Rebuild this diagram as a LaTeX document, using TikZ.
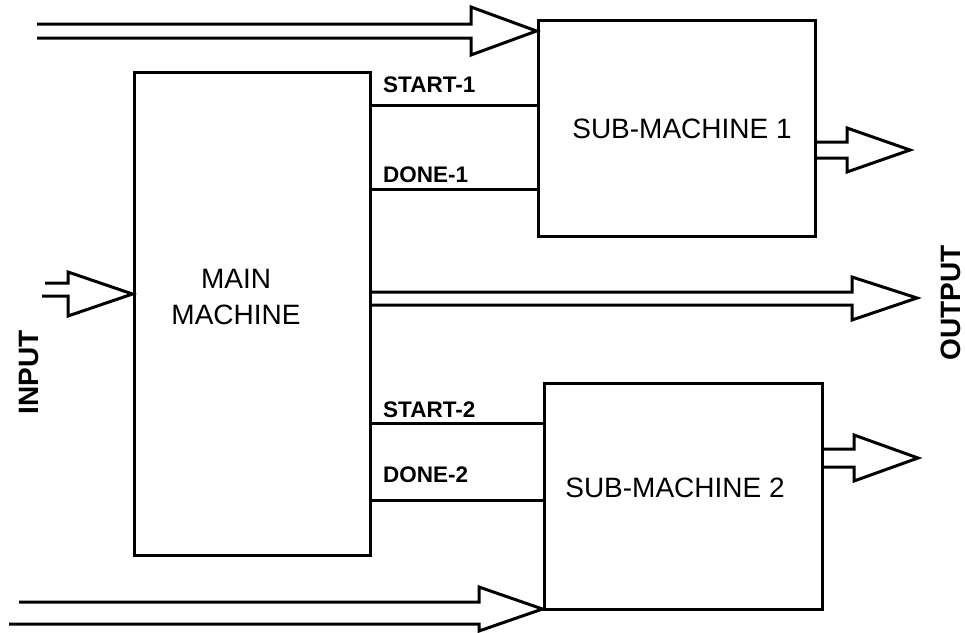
\documentclass[tikz,border=0pt]{standalone}
\usepackage{fontspec}
\setmainfont{Liberation Sans}
\usepackage{tikz}
\usetikzlibrary{positioning}

% hollow double arrow: x start top, x start bottom, y top line, y bottom line,
% head base x, head top y, head bottom y, tip
\newcommand{\hollowarrow}[8]{%
  \draw[wire] (#1,#3) -- (#5,#3) -- (#5,#6) -- (#8) -- (#5,#7) -- (#5,#4) -- (#2,#4);
}

\tikzset{
  wire/.style={line width=3pt},
  machine/.style={draw, line width=3pt, rectangle, inner sep=0pt},
  boxtext/.style={font=\fontsize{28}{36}\selectfont, align=center},
  sig/.style={font=\bfseries\fontsize{22.5}{24}\selectfont, anchor=base west, inner sep=0pt},
  port/.style={font=\bfseries\fontsize{28}{32}\selectfont, rotate=90}
}

\begin{document}
\begin{tikzpicture}[x=1pt, y=-1pt]
\useasboundingbox (0,0) rectangle (965,632);

% machines
\node[machine, minimum width=236pt, minimum height=483pt] (main) at (252,313.5) {};
\node[machine, minimum width=277pt, minimum height=216pt] (sub1) at (676.5,128) {};
\node[machine, minimum width=278pt, minimum height=226pt] (sub2) at (683,496) {};

\node[boxtext] (main-text) at (236,297) {MAIN\\MACHINE};
\node[boxtext, anchor=base] (sub1-text) at (682,138) {SUB-MACHINE 1};
\node[boxtext, anchor=base] (sub2-text) at (675,497) {SUB-MACHINE 2};

% handshake lines
\draw[wire] (main.east |- 0,105) -- (sub1.west |- 0,105);
\draw[wire] (main.east |- 0,189) -- (sub1.west |- 0,189);
\draw[wire] (main.east |- 0,423) -- (sub2.west |- 0,423);
\draw[wire] (main.east |- 0,500) -- (sub2.west |- 0,500);
\node[sig] (start1) at (383,92) {START-1};
\node[sig] (done1) at (383,182) {DONE-1};
\node[sig] (start2) at (383,417) {START-2};
\node[sig] (done2) at (383,482) {DONE-2};

% tips of the bus arrows
\coordinate (top-tip) at (sub1.west |- 0,31);
\coordinate (in-tip) at (main.west |- 0,294);
\coordinate (out1-tip) at (910,150);
\coordinate (out-tip) at (917,298);
\coordinate (out2-tip) at (918,458);
\coordinate (bot-tip) at (sub2.west |- 0,609);

% buses
\hollowarrow{37}{37}{24}{38}{471}{7}{55}{top-tip}
\hollowarrow{45}{42}{283}{296}{68}{272}{316}{in-tip}
\hollowarrow{815}{815}{142}{158}{847}{128}{172}{out1-tip}
\hollowarrow{370}{370}{292}{305}{852}{277}{320}{out-tip}
\hollowarrow{822}{822}{449}{467}{854}{435}{481}{out2-tip}
\hollowarrow{19}{9}{602}{624}{479}{587}{631}{bot-tip}

\node[port] (input) at (29,372) {INPUT};
\node[port] (output) at (951,303) {OUTPUT};
\end{tikzpicture}
\end{document}
